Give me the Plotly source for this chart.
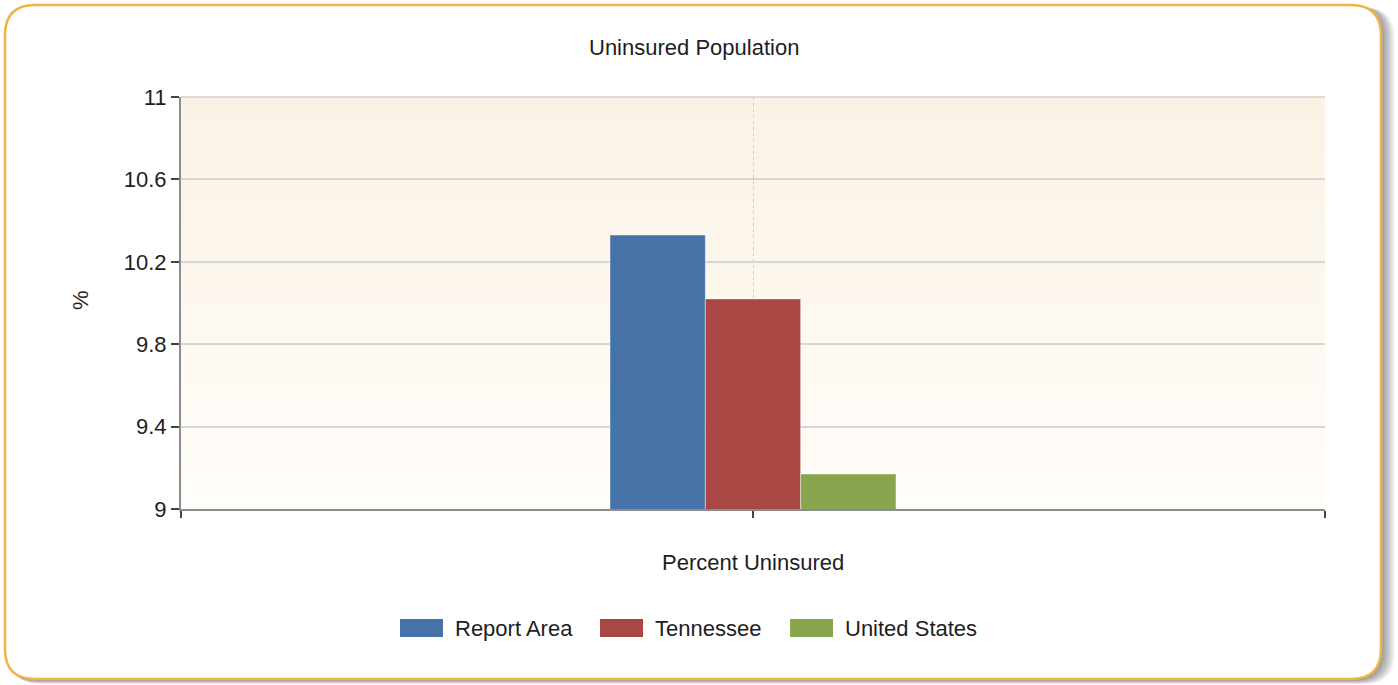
import plotly.graph_objects as go

# data
categories = ["Percent Uninsured"]
series_names = ["Report Area", "Tennessee", "United States"]
series_values = [[10.33], [10.02], [9.17]]
series_colors = ["#4572A7", "#AA4643", "#89A54E"]
y_tick_vals = [9, 9.4, 9.8, 10.2, 10.6, 11]

W, H = 1398, 685
X0, X1, Y0, Y1 = 181, 1325, 97, 509          # plot area in screen pixels
L, T = X0, Y0
R, B = W - X1, H - Y1
PW, PH = X1 - X0, Y1 - Y0
FONT = "Liberation Sans, Arial, sans-serif"
TXT = "#1e1e1e"
FS = 22


def px(x):
    return (x - X0) / PW


def py(y):
    return (Y1 - y) / PH


def rounded_box(x0, y0, x1, y1, r):
    # screen pixel box -> svg path in paper coords
    def p(x, y):
        return f"{px(x):.5f},{py(y):.5f}"
    return (f"M{p(x0 + r, y0)} L{p(x1 - r, y0)} Q{p(x1, y0)} {p(x1, y0 + r)} "
            f"L{p(x1, y1 - r)} Q{p(x1, y1)} {p(x1 - r, y1)} "
            f"L{p(x0 + r, y1)} Q{p(x0, y1)} {p(x0, y1 - r)} "
            f"L{p(x0, y0 + r)} Q{p(x0, y0)} {p(x0 + r, y0)} Z")


fig = go.Figure()
x_pos = list(range(len(categories)))
for name, vals, color in zip(series_names, series_values, series_colors):
    fig.add_trace(go.Bar(
        x=x_pos, y=vals, name=name, base=0,
        marker=dict(color=color, line=dict(color="rgba(255,255,255,0.45)", width=1)),
        showlegend=False,
    ))

shapes = []
# drop shadow of the frame
for i in range(1, 10):
    shapes.append(dict(type="path", xref="paper", yref="paper", layer="below",
                       path=rounded_box(5 + i * 0.6, 5 + i * 0.3, 1381 + i * 1.5, 680 + i * 0.45, 30),
                       fillcolor="rgba(0,0,0,0.05)", line=dict(width=0)))
# frame
shapes.append(dict(type="path", xref="paper", yref="paper", layer="below",
                   path=rounded_box(5, 5, 1381, 679, 30),
                   fillcolor="white", line=dict(color="#EFB445", width=2.5)))
# plot background gradient
top_c, bot_c = (251, 242, 228), (255, 253, 250)
n = 60
for i in range(n):
    f = i / (n - 1)
    c = tuple(round(a + (b - a) * f) for a, b in zip(top_c, bot_c))
    shapes.append(dict(type="rect", xref="paper", yref="paper", layer="below",
                       x0=0, x1=1, y0=1 - (i + 1) / n - 0.002, y1=1 - i / n,
                       fillcolor=f"rgb{c}", line=dict(width=0)))
# top border
shapes.append(dict(type="line", xref="paper", yref="paper", x0=0, x1=1, y0=1, y1=1,
                   line=dict(color="#d0d0d0", width=1.5)))

annotations = [
    dict(text="Uninsured Population", x=px(694), y=py(47), xref="paper", yref="paper",
         showarrow=False, xanchor="center", yanchor="middle",
         font=dict(size=FS, color=TXT, family=FONT)),
    dict(text=categories[0], x=px(753), y=py(562), xref="paper", yref="paper",
         showarrow=False, xanchor="center", yanchor="middle",
         font=dict(size=FS, color=TXT, family=FONT)),
    dict(text="%", x=px(80), y=py(300), xref="paper", yref="paper", textangle=-90,
         showarrow=False, xanchor="center", yanchor="middle",
         font=dict(size=FS, color=TXT, family=FONT)),
]

# legend drawn by hand for the wide swatches
legend_x = [400, 600, 790]
for name, color, lx in zip(series_names, series_colors, legend_x):
    shapes.append(dict(type="rect", xref="paper", yref="paper",
                       x0=px(lx), x1=px(lx + 43), y0=py(637), y1=py(619),
                       fillcolor=color, line=dict(width=0)))
    annotations.append(dict(text=name, x=px(lx + 53), y=py(628), xref="paper", yref="paper",
                            showarrow=False, xanchor="left", yanchor="middle",
                            font=dict(size=FS, color=TXT, family=FONT)))

fig.update_layout(
    width=W, height=H,
    margin=dict(l=L, r=R, t=T, b=B, autoexpand=False),
    paper_bgcolor="white", plot_bgcolor="rgba(0,0,0,0)",
    barmode="group", bargap=0.75, bargroupgap=0,
    showlegend=False,
    shapes=shapes, annotations=annotations,
    font=dict(family=FONT, size=FS, color=TXT),
)
fig.update_xaxes(
    range=[-0.5, len(categories) - 0.5], tickmode="array",
    tickvals=[-0.5] + x_pos + [len(categories) - 0.5],
    showticklabels=False, ticks="outside", ticklen=7, tickwidth=2, tickcolor="#444",
    showgrid=True, gridcolor="#cccccc", griddash="dot", gridwidth=1.2,
    showline=True, linecolor="#8c8c8c", linewidth=2, zeroline=False,
)
fig.update_yaxes(
    range=[y_tick_vals[0], y_tick_vals[-1]], tickmode="array", tickvals=y_tick_vals,
    ticktext=[f"{v:g}" for v in y_tick_vals],
    ticks="outside", ticklen=8, tickwidth=2, tickcolor="#444",
    tickfont=dict(size=FS, color=TXT, family=FONT),
    showgrid=True, gridcolor="#d6d6d6", gridwidth=1.5,
    showline=True, linecolor="#8c8c8c", linewidth=2, zeroline=False,
)

# drop the default 8px body margin so the figure fills the window
fig.write_html("out.html", config={"displayModeBar": False},
               post_script="document.body.style.margin='0';")
